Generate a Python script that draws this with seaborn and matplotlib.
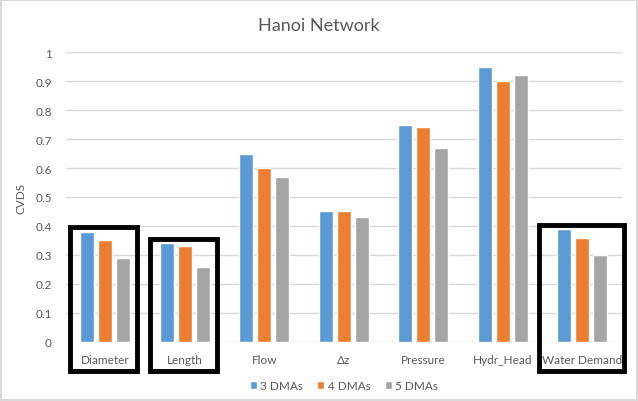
import pandas as pd
import seaborn as sns
import matplotlib.pyplot as plt
from matplotlib.patches import Rectangle

categories = ["Diameter", "Length", "Flow", "\u0394z", "Pressure", "Hydr_Head", "Water Demand"]
dma3 = [0.38, 0.34, 0.65, 0.45, 0.75, 0.95, 0.39]
dma4 = [0.35, 0.33, 0.60, 0.45, 0.74, 0.90, 0.36]
dma5 = [0.29, 0.26, 0.57, 0.43, 0.67, 0.92, 0.30]
series = ["3 DMAs", "4 DMAs", "5 DMAs"]
boxed = ["Diameter", "Length", "Water Demand"]

colors = {"3 DMAs": "#5B9BD5", "4 DMAs": "#ED7D31", "5 DMAs": "#A5A5A5"}
txt = "#595959"

df = pd.DataFrame({"Parameter": categories, "3 DMAs": dma3, "4 DMAs": dma4, "5 DMAs": dma5})
long = df.melt(id_vars="Parameter", var_name="Scenario", value_name="CVDS")

sns.set_style("white")
plt.rcParams["font.family"] = ["Lato", "DejaVu Sans"]

fig = plt.figure(figsize=(6.38, 4.02), dpi=100)
fig.patch.set_edgecolor("#d9d9d9")
fig.patch.set_linewidth(1.5)
ax = fig.add_axes([0.103, 0.147, 0.872, 0.721])

sns.barplot(data=long, x="Parameter", y="CVDS", hue="Scenario", order=categories,
            hue_order=series, palette=colors, width=0.68, gap=0.22,
            saturation=1, ax=ax, legend=True)

ax.set_ylim(0, 1)
ax.set_xlim(-0.5, len(categories) - 0.5)
ax.set_yticks([i / 10 for i in range(11)])
ax.set_yticklabels(["0"] + [f"{i/10:g}" for i in range(1, 10)] + ["1"])
ax.yaxis.grid(True, color="#d9d9d9", linewidth=1)
ax.set_axisbelow(True)
for s in ax.spines.values():
    s.set_visible(False)
ax.tick_params(axis="both", length=0, colors=txt, labelsize=8.5)
ax.tick_params(axis="x", pad=9)
ax.tick_params(axis="y", pad=10)
ax.set_xlabel("")
ax.set_ylabel("CVDS", color=txt, fontsize=8.5, labelpad=6)
fig.suptitle("Hanoi Network", color=txt, fontsize=13, x=0.5, y=0.935, va="center")

# black boxes highlighting selected parameters
for name in boxed:
    i = categories.index(name)
    top = max(df.loc[i, series]) + 0.015
    left = i - 0.44 if name != "Water Demand" else i - 0.55
    right = i + 0.4 if name != "Water Demand" else i + 0.53
    ax.add_patch(Rectangle((left, -0.1), right - left, top + 0.1, fill=False,
                           edgecolor="black", linewidth=3.5, clip_on=False, zorder=5))

ax.legend(loc="upper center", bbox_to_anchor=(0.5, -0.095), ncol=3, frameon=False,
          fontsize=8.5, labelcolor=txt, handlelength=0.6, handleheight=0.6,
          handletextpad=0.3, columnspacing=1.2)

fig.savefig("out.png", dpi=100)
